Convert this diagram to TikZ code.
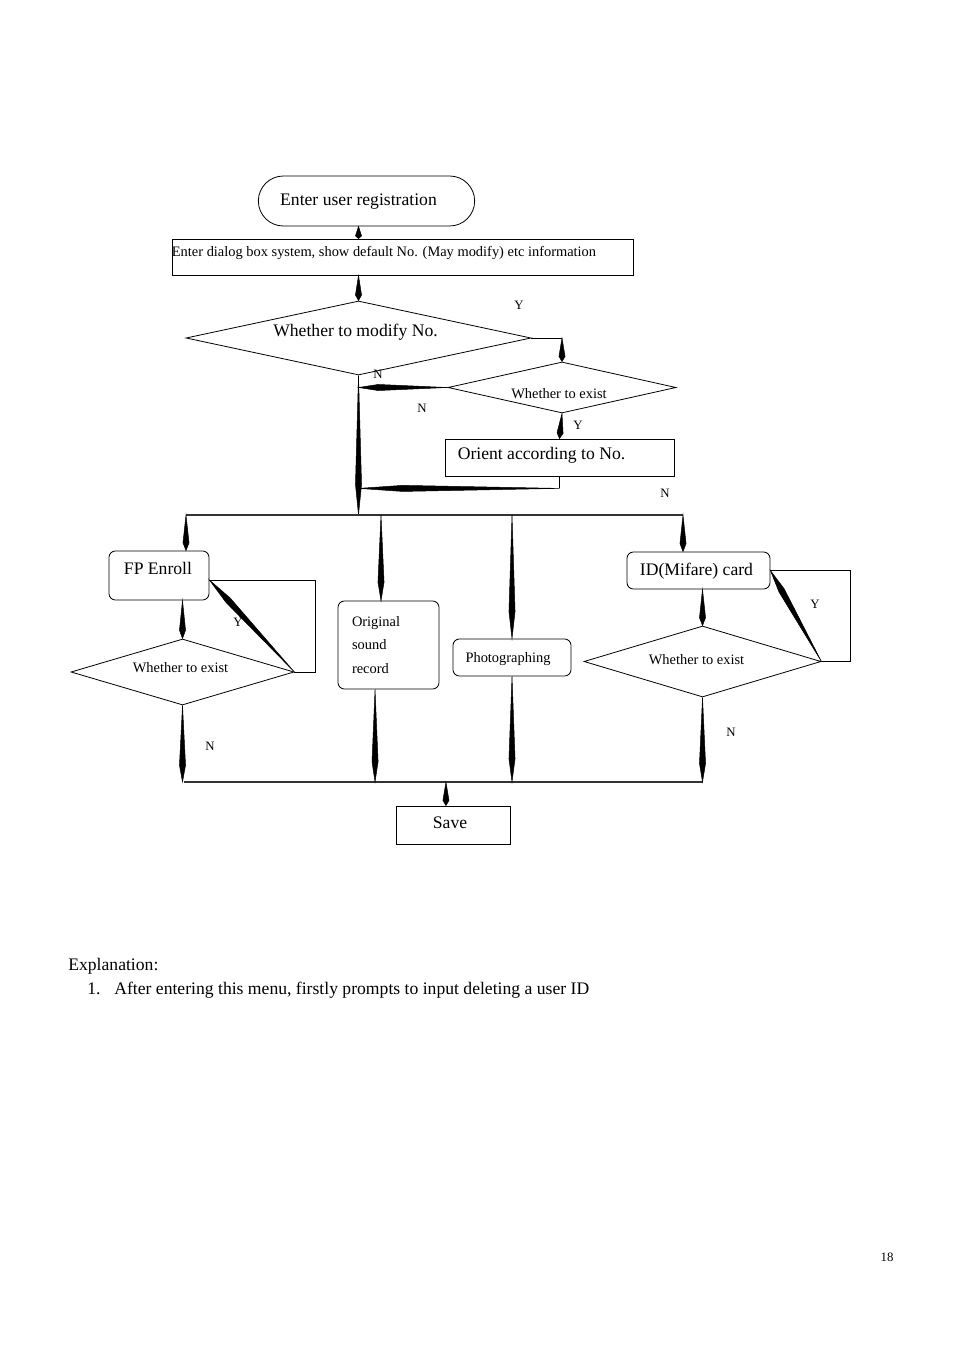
\documentclass[tikz,border=0pt]{standalone}
\usepackage{fontspec}
\setmainfont{Liberation Serif}
\usetikzlibrary{positioning,calc,shapes.geometric,shapes.misc}
\def\px{0.624pt}
\tikzset{
  spindle/.style={fill=black, line width=0.3pt,
    to path={(\tikztostart) -- ($(\tikztostart)!0.78!(\tikztotarget)!1.9pt!90:(\tikztotarget)$)
      -- (\tikztotarget) -- ($(\tikztostart)!0.78!(\tikztotarget)!1.9pt!-90:(\tikztotarget)$) -- cycle}},
  bigtext/.style={font=\fontsize{11}{13}\selectfont},
  smalltext/.style={font=\fontsize{9}{11}\selectfont},
  yn/.style={font=\fontsize{8}{9}\selectfont, inner sep=0pt},
  txt/.style n args={4}{label={[xshift=#1*\px, yshift=#2*\px, inner sep=0pt, #3]center:#4}},
  plain/.style={draw, line width=0.5pt, inner sep=0pt},
  rbox/.style={plain, rounded corners=4pt},
  decision/.style={diamond, draw, line width=0.5pt, inner sep=0pt},
  bus/.style={line width=0.8pt, draw=black!80}
}
\begin{document}
\begin{tikzpicture}[x=0.624pt, y=-0.624pt]
  \useasboundingbox (0,0) rectangle (954,1350);
  % upper part
  \node[rounded rectangle, draw, line width=0.5pt, minimum width=227*\px, minimum height=50*\px,
        txt={-8}{-1}{bigtext}{Enter user registration}] (start) at (366.5,201) {};
  \node[plain, minimum width=461*\px, minimum height=36*\px,
        label={[anchor=north west, inner sep=0pt, smalltext]north west:\rule{0pt}{11pt}Enter dialog box system, show default No. (May modify) etc information}] (dialog) at (402.5,257) {};
  \node[decision, aspect=4.66, minimum width=345*\px, minimum height=74*\px,
        txt={-3}{6}{bigtext}{Whether to modify No.}] (modify) at (358.5,338) {};
  \node[decision, aspect=4.47, minimum width=228*\px, minimum height=51*\px,
        txt={-3}{-6}{smalltext}{Whether to exist}] (exist0) at (562,387.5) {};
  \node[plain, minimum width=229*\px, minimum height=37*\px,
        txt={-18}{2}{bigtext}{Orient according to No.}] (orient) at (559.5,457.5) {};

  \draw[spindle] (start.south -| modify.north) to (dialog.north -| modify.north);
  \draw[spindle] (dialog.south -| modify.north) to (modify.north);
  \draw (modify.east) -- (modify.east -| exist0.north);
  \draw[spindle] (modify.east -| exist0.north) to (exist0.north);
  \draw[spindle] (exist0.west) to (exist0.west -| modify.south);
  \draw[spindle] (exist0.south) to (orient.north);
  \draw (orient.south) -- ++(0,12) coordinate (back);
  \draw[spindle] (back) to (back -| modify.south);

  \coordinate (busL) at (186,515);
  \coordinate (busR) at (683,515);
  \draw[spindle] (modify.south) to (modify.south |- busL);
  \draw[bus] (busL) -- (busR);

  % four branches
  \node[rbox, minimum width=100*\px, minimum height=49*\px,
        txt={-1}{7}{bigtext}{FP Enroll}] (fp) at (159,575.5) {};
  \node[decision, aspect=3.38, minimum width=223*\px, minimum height=66*\px,
        txt={-2}{4}{smalltext}{Whether to exist}] (exist1) at (182.5,672) {};
  \node[rbox, minimum width=101*\px, minimum height=88*\px, align=left, text width=73*\px,
        font=\fontsize{9}{14.5}\selectfont] (sound) at (388.5,645) {Original\\sound\\record};
  \node[rbox, minimum width=118*\px, minimum height=37*\px,
        txt={-4}{-2}{smalltext}{Photographing}] (photo) at (512,657.5) {};
  \node[rbox, minimum width=143*\px, minimum height=37*\px,
        txt={-2}{-1}{bigtext}{ID(Mifare) card}] (card) at (698.5,570.5) {};
  \node[decision, aspect=3.34, minimum width=237*\px, minimum height=71*\px,
        txt={-6}{2}{smalltext}{Whether to exist}] (exist2) at (702.5,661.5) {};

  \draw[spindle] (busL) to (busL |- fp.north);
  \draw[spindle] (381,515) to (381,601);
  \draw[spindle] (photo.north |- busL) to (photo.north);
  \draw[spindle] (busR) to (busR |- card.north);

  \draw[spindle] (fp.south -| exist1.north) to (exist1.north);
  \coordinate (fpin) at ($(fp.east)+(0,4.5)$);
  \draw (exist1.east) -- ++(21,0) |- (fpin);
  \draw[spindle] (exist1.east) to (fpin);

  \draw[spindle] (card.south -| exist2.north) to (exist2.north);
  \draw (exist2.east) -- ++(29,0) |- (card.east);
  \draw[spindle] (exist2.east) to (card.east);

  % lower bus and save
  \coordinate (busBL) at (184,782);
  \coordinate (busBR) at (703,782);
  \draw[bus] (busBL) -- (busBR);
  \draw[spindle] (exist1.south) to (exist1.south |- busBL);
  \draw[spindle] ([xshift=-8.4pt]sound.south) to ([xshift=-8.4pt]sound.south |- busBL);
  \draw[spindle] (photo.south) to (photo.south |- busBL);
  \draw[spindle] (exist2.south) to (exist2.south |- busBL);

  \node[plain, minimum width=114*\px, minimum height=38*\px,
        txt={-3}{2}{bigtext}{Save}] (save) at (453,825) {};
  \draw[line width=1.1pt] (save.south west) -- (save.south east);
  \draw[spindle] ([xshift=-4.4pt]save.north |- busBL) to ([xshift=-4.4pt]save.north);

  % Y / N marks
  \node[yn] (y0) at (519,305) {Y};
  \node[yn] (n0) at (378,374) {N};
  \node[yn] (n1) at (422,408) {N};
  \node[yn] (y1) at (578,425) {Y};
  \node[yn] (n2) at (665,493) {N};
  \node[yn] (y2) at (238,622) {Y};
  \node[yn] (n3) at (210,746) {N};
  \node[yn] (y3) at (815,604) {Y};
  \node[yn] (n4) at (731,732) {N};

  % text below
  \node[anchor=base west, inner sep=0pt, bigtext] (expl) at (68,970) {Explanation:};
  \node[anchor=base west, inner sep=0pt, bigtext] (num) at (87,994) {1.};
  \node[anchor=base west, inner sep=0pt, bigtext] (item) at (114,994) {After entering this menu, firstly prompts to input deleting a user ID};
  \node[anchor=base, inner sep=0pt, yn] (page) at (887,1261) {18};
\end{tikzpicture}
\end{document}
